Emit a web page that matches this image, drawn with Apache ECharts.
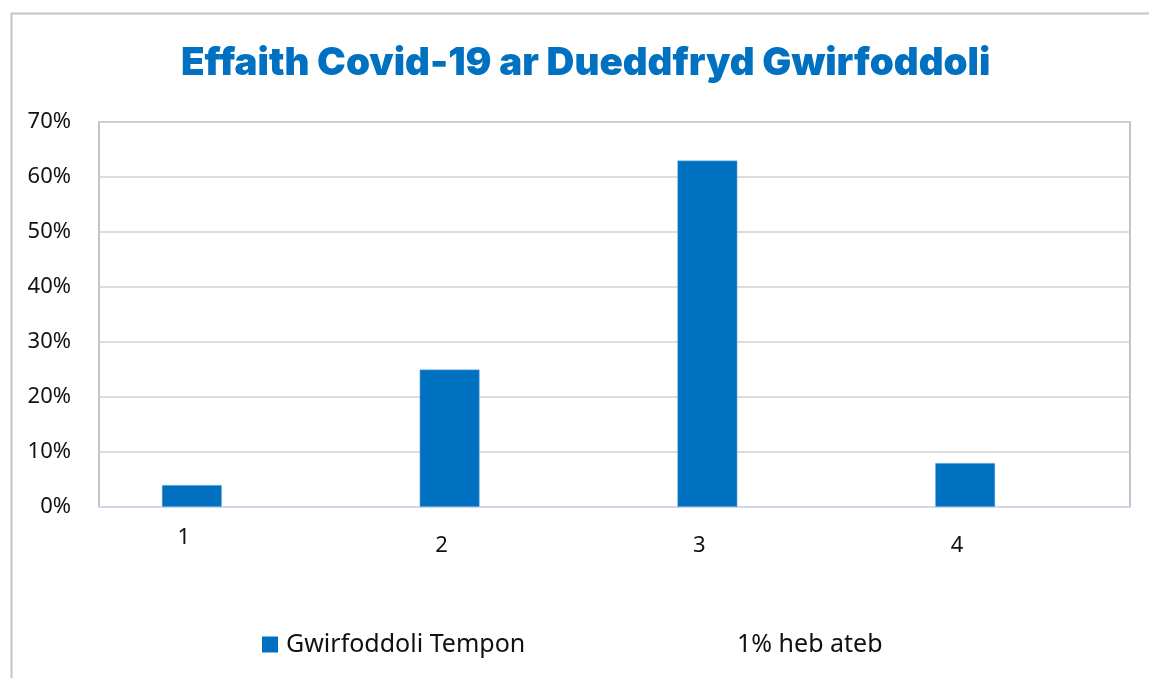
<!DOCTYPE html>
<html>
<head>
<meta charset="utf-8">
<script src="https://cdn.jsdelivr.net/npm/echarts@6/dist/echarts.min.js"></script>
<style>
html,body{margin:0;padding:0;background:#fff;}
#chart{width:1149px;height:678px;}
</style>
</head>
<body>
<div id="chart"></div>
<script>
const titleText = 'Effaith Covid-19 ar Dueddfryd Gwirfoddoli';
const categories = ['1', '2', '3', '4'];
const seriesName = 'Gwirfoddoli Tempon';
const seriesValues = [4, 25, 63, 8];
const noteName = '1% heb ateb';
const yTicks = [0, 10, 20, 30, 40, 50, 60, 70];

const chart = echarts.init(document.getElementById('chart'));
const font = '"Noto Sans", sans-serif';
chart.setOption({
  animation: false,
  backgroundColor: '#ffffff',
  graphic: [{
    type: 'rect', left: 9, top: 11,
    shape: { x: 0, y: 0, width: 1300, height: 800 },
    style: { fill: 'none', stroke: '#C4C4C4', lineWidth: 2 },
    silent: true, z: -1
  }],
  title: {
    text: titleText,
    left: 176, top: 39,
    textStyle: { fontFamily: 'Inter, "Noto Sans", sans-serif', fontWeight: 900, fontSize: 38.5, color: '#0070C0' }
  },
  legend: [{
    left: 262, top: 632, padding: 0,
    itemWidth: 16, itemHeight: 16,
    icon: 'rect',
    itemStyle: { borderWidth: 0 },
    data: [seriesName],
    textStyle: { fontFamily: font, fontSize: 25, color: '#111', padding: [0, 0, 0, 3] }
  }, {
    left: 716, top: 632, padding: 0,
    itemWidth: 16, itemHeight: 16,
    data: [{ name: noteName, icon: 'none' }],
    textStyle: { fontFamily: font, fontSize: 25, color: '#111' }
  }],
  grid: {
    left: 99, right: 19, top: 122, bottom: 171,
    show: true, borderColor: '#C4C4C4', borderWidth: 2
  },
  xAxis: {
    type: 'category',
    data: categories.map((c, i) => ({
      value: c,
      textStyle: { padding: i === 0 ? [0, 88, 0, 0] : [8, 88, 0, 0] }
    })),
    axisLine: { lineStyle: { color: '#D6D4EE', width: 2 } },
    axisTick: { show: false },
    axisLabel: { margin: 20, fontFamily: font, fontSize: 22, color: '#111' }
  },
  yAxis: {
    type: 'value', min: yTicks[0], max: yTicks[yTicks.length - 1], interval: 10,
    axisLine: { show: false },
    axisTick: { show: false },
    splitLine: { lineStyle: { color: '#D0D0D0', width: 1.5 } },
    axisLabel: { margin: 28, fontFamily: font, fontSize: 22, color: '#111', formatter: v => v + '%' }
  },
  series: [{
    name: seriesName, type: 'bar',
    data: seriesValues,
    barWidth: 60, barGap: '20%',
    itemStyle: { color: '#0070C0', borderColor: '#9DC3E6', borderWidth: 0.5 }
  }, {
    name: noteName, type: 'bar',
    data: seriesValues.map(() => null),
    barWidth: 60,
    itemStyle: { color: 'transparent' }
  }]
});
</script>
</body>
</html>
